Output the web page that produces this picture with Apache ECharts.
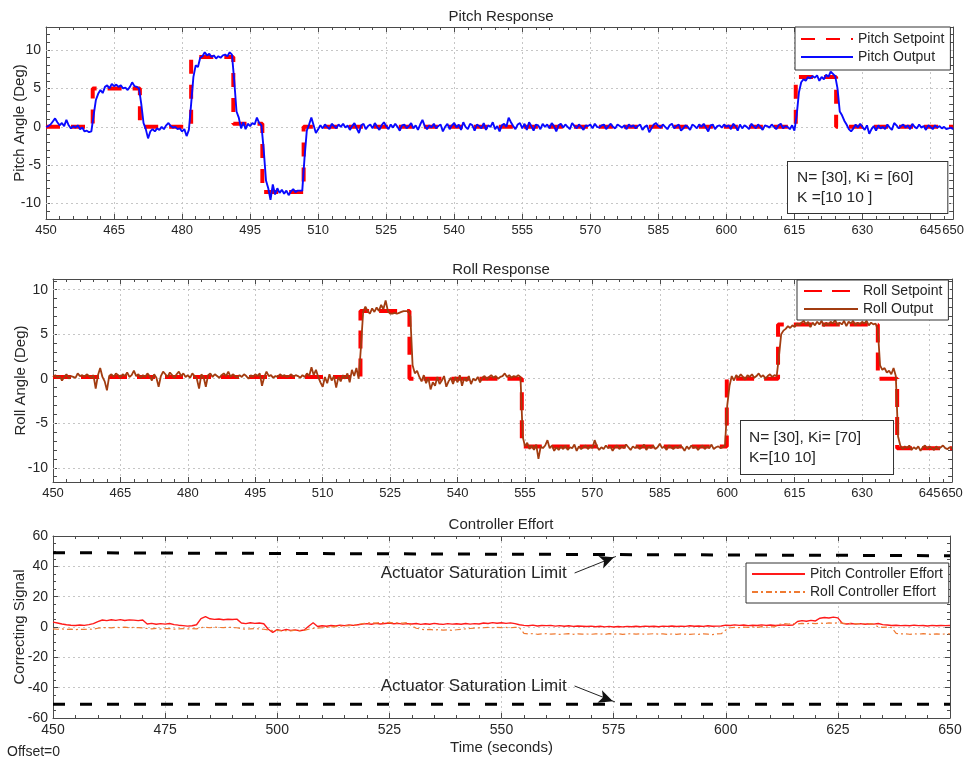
<!DOCTYPE html>
<html><head><meta charset="utf-8">
<script src="https://cdn.jsdelivr.net/npm/echarts@6/dist/echarts.min.js"></script>
<style>html,body{margin:0;padding:0;background:#fff}#c{width:967px;height:759px}</style>
</head><body><div id="c"></div>
<script>
// ---------------- DATA ----------------
const pitchStart = 450, pitchStep = 0.5;
const pitchOutput = [
 0.0, 0.1, 0.3, 0.7, 1.1, 0.6, 0.2, 0.5, 0.1, 0.9, 0.2, -0.2, 0.1, -0.1, 0.2, -0.3, -0.1, -0.6, -0.5, -0.7,
 -0.6, 1.5, 3.5, 4.3, 4.8, 4.4, 5.2, 5.4, 5.0, 5.6, 5.3, 5.5, 5.2, 5.4, 5.0, 5.1, 4.8, 5.2, 5.8, 5.3,
 5.2, 5.0, 3.0, 0.5, -0.3, -1.5, -0.6, -0.3, -0.6, -0.2, -0.4, 0.0, -0.3, 0.2, 0.5, 0.1, -0.1, 0.0, -0.3, -0.2,
 -0.6, -0.3, -1.2, -0.4, 3.0, 6.5, 8.0, 7.8, 9.0, 9.2, 9.7, 9.3, 9.5, 9.1, 9.3, 8.9, 9.2, 9.0, 9.3, 9.4,
 9.2, 9.7, 9.4, 6.0, 2.0, 1.2, -0.2, 0.6, -0.3, 0.4, 0.1, 0.5, 0.3, 1.2, 0.5, 0.2, -3.0, -7.0, -8.0, -9.5,
 -7.5, -8.8, -8.0, -8.6, -8.2, -8.7, -8.3, -8.9, -8.4, -8.1, -8.5, -8.3, -8.3, -8.3, -4.0, -0.5, 0.3, 1.2, 0.2, -0.8,
 -0.3, 0.2, -0.2, 0.3, 0.0, -0.3, 0.4, 0.1, -0.2, 0.3, 0.0, 0.4, -0.1, 0.2, -0.4, 0.1, 0.5, -0.2, -0.8, 0.2,
 0.4, -0.3, 0.1, 0.3, -0.2, 0.5, 0.0, -0.4, 0.2, 0.6, 0.1, -0.3, 0.3, -0.1, 0.4, 0.0, -0.5, 0.2, 0.3, -0.2,
 0.1, 0.5, -0.2, 0.2, -0.4, 0.3, 0.9, 0.1, -0.3, 0.2, -0.1, 0.4, -0.2, 0.1, 0.3, -0.6, 0.0, 0.4, -0.3, 0.2,
 0.5, -0.1, 0.3, -0.4, 0.6, 0.0, -0.3, 0.4, 0.2, -0.5, 0.3, 0.1, -0.2, 0.5, -0.4, 0.2, 0.0, 0.6, -0.3, 0.1,
 -0.6, 0.2, 0.4, 0.0, 1.2, 0.6, 0.1, -0.3, 0.3, 0.5, -0.2, 0.4, -0.4, 0.6, 0.1, -0.5, 0.3, 0.2, -0.3, 0.4,
 0.0, 0.3, -0.2, 0.5, 0.1, -0.6, 0.2, 0.4, -0.1, 0.3, 0.0, -0.3, 0.5, 0.1, -0.2, 0.3, 0.0, -0.4, 0.2, 0.1,
 0.3, -0.2, 0.4, 0.0, -0.1, 0.2, 0.3, -0.3, 0.1, 0.4, 0.0, -0.2, 0.3, 0.1, -0.1, 0.2, -0.3, 0.3, 0.0, 0.2,
 -0.2, 0.1, 0.3, -0.4, 0.0, 0.2, -0.7, -0.2, 0.3, 0.5, 0.1, -0.1, 0.3, 0.0, -0.3, 0.2, 0.4, -0.2, 0.1, 0.3,
 -0.5, -0.2, 0.2, 0.0, -0.4, 0.3, 0.1, -0.2, 0.3, 0.0, 0.4, -0.1, -0.6, 0.2, 0.3, -0.3, 0.1, 0.2, -0.1, 0.3,
 0.0, 0.2, -0.3, 0.4, 0.1, -0.5, 0.3, -0.2, 0.2, 0.0, -0.3, 0.4, 0.1, -0.2, 0.3, 0.0, -0.4, 0.2, 0.1, -0.1,
 0.3, 0.0, -0.3, 0.2, 0.4, -0.2, 0.1, 0.0, -0.3, 0.2, -0.5, 1.5, 4.5, 5.8, 6.2, 6.0, 6.5, 6.3, 6.6, 6.4,
 6.7, 6.0, 6.5, 6.2, 6.8, 6.5, 7.2, 6.9, 6.6, 5.0, 2.0, 1.5, 0.8, 0.3, -0.3, -0.6, -0.2, 0.3, -0.1, 0.4,
 0.0, -0.4, 0.2, -0.9, -0.3, 0.1, -0.5, 0.2, -0.2, 0.0, -0.3, 0.3, -0.1, -0.4, 0.5, 0.2, -0.2, 0.1, 0.3, -0.1,
 0.2, -0.3, 0.4, 0.0, -0.2, 0.3, -0.1, 0.1, -0.4, 0.2, 0.0, -0.3, 0.2, -0.1, 0.1, -0.2, 0.0, -0.3, -0.2, -0.1,
 -0.3
];
const pitchSetpoint = [[450,0],[460.3,0],[460.3,5],[470.7,5],[470.7,0],[482,0],[482,9.1],[491.3,9.1],[491.3,0.4],
 [497.7,0.4],[497.7,-8.5],[506.8,-8.5],[506.8,0],[615.3,0],[615.3,6.5],[624.2,6.5],[624.2,0],[650,0]];

const rollStart = 450, rollStep = 0.5;
const rollOutput = [
 0.2, 0.4, 0.1, 0.3, -0.2, 0.2, 0.5, 0.0, 0.3, 0.2, 0.1, 0.6, 0.3, 0.4, 0.2, 0.5, 0.3, 0.1, 0.4, -1.1,
 0.4, 1.2, 0.2, -0.3, -1.3, 0.3, 0.5, 0.2, 0.6, 0.4, 0.1, 0.5, 0.3, 0.7, 0.2, 0.4, 0.9, 0.3, 0.5, 0.1,
 0.4, 0.2, 0.6, 0.3, -0.2, 0.5, 0.1, -0.9, 0.3, 0.8, 0.5, 0.2, 0.7, 0.4, 0.1, 0.5, 0.8, 0.3, 0.6, 0.2,
 0.4, 0.1, 0.6, 0.3, 0.0, -1.1, 0.5, 0.2, -0.9, 0.4, 0.6, 0.2, 0.5, 0.3, 0.1, 0.4, 0.6, 0.3, 0.8, 0.2,
 0.5, 0.3, 0.1, 0.4, 0.2, 0.5, 0.3, 0.0, 0.4, 0.2, 0.5, 0.3, 0.6, -0.8, 0.2, 0.8, 0.3, 0.4, 0.1, 0.3,
 0.2, 0.5, 0.3, 0.4, 0.2, 0.3, 0.5, 0.2, 0.4, 0.3, 0.1, 0.4, 0.2, 0.6, 0.3, 1.3, 0.4, 1.0, 0.2, -0.4,
 -0.9, 0.2, -0.5, 0.5, -0.2, 0.3, -1.0, 0.2, -0.3, 0.4, 0.0, 0.6, -0.4, 1.0, 0.3, 1.2, 0.0, 3.5, 7.5, 8.1,
 7.6, 7.3, 7.9, 7.5, 8.0, 7.6, 8.3, 7.8, 8.8, 7.6, 7.3, 7.3, 7.4, 7.3, 7.4, 7.5, 7.6, 7.6, 7.6, 7.0,
 1.5, 0.6, 0.9, 0.2, -0.3, 0.4, -0.5, 0.1, -1.2, -0.4, -0.8, 0.2, -0.6, -0.2, 0.3, -0.9, -0.3, 0.1, -0.6, 0.2,
 -0.4, 0.4, -0.8, 0.1, -0.3, 0.3, -0.6, 0.0, -0.2, 0.2, -0.4, 0.1, 0.3, -0.1, 0.2, 0.4, 0.1, 0.3, 0.0, 0.2,
 0.3, 0.6, 0.2, 0.4, 0.1, 0.3, 0.2, 0.4, 0.2, -6.5, -7.6, -7.2, -7.9, -7.5, -8.0, -7.4, -9.0, -7.6, -7.8, -7.5,
 -6.9, -7.8, -7.5, -8.1, -7.7, -8.0, -7.6, -7.9, -7.5, -8.0, -7.7, -7.8, -7.4, -8.1, -7.6, -7.9, -7.7, -7.5, -7.9, -7.6,
 -7.8, -6.9, -7.6, -8.0, -7.7, -7.9, -7.5, -7.8, -7.6, -8.1, -7.7, -7.5, -7.9, -7.6, -7.8, -7.4, -7.7, -8.0, -7.6, -7.8,
 -7.5, -7.9, -7.7, -7.4, -8.0, -7.6, -7.8, -7.5, -7.9, -7.7, -7.3, -7.8, -7.6, -8.0, -7.5, -7.7, -7.9, -7.6, -7.8, -7.5,
 -7.7, -8.1, -7.6, -7.9, -7.5, -7.8, -7.6, -8.0, -7.7, -7.5, -7.9, -7.6, -7.8, -7.4, -7.9, -7.7, -7.6, -7.8, -7.7, -7.5,
 -3.0, -0.8, 0.3, -0.2, 0.4, 0.1, 0.5, 0.2, -0.1, 0.4, 0.2, 0.5, 0.1, 0.3, 0.6, 0.2, 0.4, 0.0, 0.3, 0.5,
 0.2, 0.4, 0.3, 2.5, 5.0, 5.4, 5.6, 5.9, 5.7, 6.0, 5.8, 6.2, 6.0, 6.3, 6.5, 6.1, 6.4, 5.8, 6.3, 6.0,
 6.4, 6.1, 6.5, 5.9, 6.3, 6.0, 6.4, 6.2, 6.6, 6.0, 6.3, 6.1, 6.5, 5.9, 6.4, 6.2, 6.5, 6.0, 6.3, 6.1,
 6.4, 6.2, 6.5, 6.0, 6.3, 6.1, 6.2, 5.5, 1.5, 1.0, 1.2, 0.7, 0.9, 0.5, 1.2, 0.3, -6.5, -7.5, -7.9, -7.6,
 -7.8, -7.5, -8.0, -7.7, -7.9, -7.6, -8.1, -7.7, -7.5, -7.9, -7.6, -7.8, -8.0, -7.6, -7.9, -7.7, -7.5, -7.8, -7.9, -7.7,
 -7.8
];
const rollSetpoint = [[450,0.2],[518.4,0.2],[518.4,7.6],[529.3,7.6],[529.3,0],[554.3,0],[554.3,-7.6],[599.9,-7.6],
 [599.9,0],[611.3,0],[611.3,6.1],[633.5,6.1],[633.5,0],[637.8,0],[637.8,-7.8],[650,-7.8]];

const effortStart = 450, effortStep = 1;
const pitchEffort = [
 3.2, 2.6, 2.0, 1.5, 1.2, 1.0, 1.3, 1.1, 1.6, 2.2,
 3.5, 4.6, 4.2, 4.8, 4.4, 4.9, 4.3, 4.7, 4.5, 4.2,
 4.6, 2.0, 2.4, 1.8, 2.2, 1.9, 2.3, 1.6, 1.2, 0.9,
 0.6, 0.8, 1.5, 5.5, 6.8, 5.4, 5.0, 5.3, 4.8, 5.1,
 4.9, 5.2, 2.6, 2.2, 2.8, 2.4, 2.6, 2.1, -1.5, -3.5,
 -1.8, -2.4, -1.6, -2.2, -1.9, -2.5, -2.0, 0.5, 2.8, 0.3,
 0.8, 0.5, 1.0, 0.7, 1.2, 0.9, 1.3, 1.1, 1.5, 1.9,
 2.2, 1.8, 2.4, 2.0, 2.3, 2.6, 2.1, 2.4, 1.9, 2.2,
 2.0, 2.3, 1.7, 2.1, 1.8, 2.4, 2.0, 1.7, 2.2, 1.9,
 2.1, 1.8, 2.3, 1.9, 2.2, 2.0, 2.6, 2.3, 2.9, 2.5,
 2.8, 2.4, 2.7, 2.2, 1.5, 1.1, 0.8, 1.2, 0.7, 1.0,
 0.9, 1.1, 0.6, 0.9, 0.5, 0.8, 0.4, 0.7, 0.5, 0.3,
 0.6, 0.2, 0.5, 0.1, 0.4, 0.0, 0.3, 0.1, 0.4, 0.2,
 0.5, 0.2, 0.6, 0.3, 0.5, 0.2, 0.6, 0.4, 0.7, 0.3,
 0.6, 0.4, 0.8, 0.5, 0.7, 0.4, 0.8, 0.5, 0.6, 0.7,
 1.2, 1.0, 1.4, 1.1, 1.3, 0.9, 1.2, 1.0, 1.4, 1.1,
 1.3, 1.0, 1.2, 1.4, 1.1, 1.3, 3.6, 4.2, 3.8, 4.4,
 4.0, 5.8, 6.3, 5.9, 6.5, 6.0, 2.4, 2.0, 2.3, 1.9,
 2.2, 1.8, 2.1, 1.9, 2.3, 1.6, 1.3, 1.0, 1.2, 0.9,
 1.1, 0.8, 1.2, 0.9, 1.0, 0.7, 1.1, 0.8, 1.0, 0.9,
 1.0
];
const rollEffort = [
 -1.2, -1.5, -1.3, -1.6, -1.4, -1.7, -1.5, -1.6, -1.4, -1.5,
 -0.8, -0.5, -0.3, -0.6, -0.2, -0.4, -0.1, -0.5, -0.3, -0.4,
 -0.6, -1.0, -1.2, -0.9, -1.3, -1.1, -1.0, -1.4, -1.2, -1.1,
 -1.3, -1.0, -1.2, -0.4, -0.2, -0.5, -0.1, -0.3, -0.4, -0.2,
 -0.3, -0.5, -1.1, -1.4, -1.2, -1.0, -1.3, -1.5, -2.0, -2.4,
 -2.2, -2.5, -2.3, -2.6, -2.1, -2.4, -2.2, -1.5, -1.0, -0.8,
 -0.5, -0.2, 0.0, 0.3, 0.5, 0.7, 0.9, 1.2, 1.6, 2.3,
 2.6, 2.9, 2.5, 3.0, 2.7, 3.1, 2.6, 2.8, 2.5, 2.9,
 0.8, -0.8, -1.4, -1.8, -1.6, -2.0, -1.7, -2.1, -1.9, -2.2,
 -1.8, -1.5, -1.2, -1.0, -0.8, -0.6, -0.5, -0.3, -0.5, -0.2,
 -0.4, -0.3, -0.5, -0.2, -0.4, -4.2, -4.6, -4.3, -4.8, -4.5,
 -4.4, -4.7, -4.5, -4.9, -4.6, -4.4, -4.8, -4.5, -4.7, -4.6,
 -4.8, -4.5, -4.6, -4.9, -4.4, -4.7, -4.5, -4.8, -4.6, -4.4,
 -4.7, -4.5, -4.8, -4.6, -4.4, -4.7, -4.5, -4.9, -4.6, -4.8,
 -4.5, -4.7, -4.9, -4.6, -4.8, -4.5, -4.7, -5.0, -4.6, -4.4,
 -2.0, -0.5, -0.2, -0.4, 0.0, -0.3, 0.1, -0.2, 0.2, -0.1,
 0.1, 0.3, 1.8, 2.2, 1.9, 2.3, 2.0, 2.4, 2.1, 2.5,
 2.2, 2.6, 2.3, 2.7, 2.4, 2.8, 2.5, 2.2, 2.4, 2.1,
 2.3, 2.0, 2.2, 1.9, 0.1, -0.3, 0.0, -0.4, -4.2, -4.6,
 -4.4, -4.8, -4.5, -4.7, -4.4, -4.6, -4.9, -4.5, -4.7, -4.6,
 -4.5
];
const upperLimit = [[450, 49], [650, 47]];
const lowerLimit = [[450, -51], [650, -51]];
// annotation arrows: line start/end and arrowhead centre + rotation (deg)
const upperArrow = [[566.3, 35.6], [575.5, 46.5]];
const lowerArrow = [[566.3, -38.9], [575.3, -49.4]];
const upperHead = {at: [575.05, 45.95], rotate: -69};
const lowerHead = {at: [574.83, -48.92], rotate: -110};
const upperLabelAt = [565, 35.6];
const lowerLabelAt = [565, -38.9];
const satLabel = 'Actuator Saturation Limit';

// ticks / labels
const pitchYTicks = [-12,-11,-10,-9,-8,-7,-6,-5,-4,-3,-2,-1,0,1,2,3,4,5,6,7,8,9,10,11,12,13];
const pitchYLabels = [-10,-5,0,5,10];
const rollYTicks = [-11,-10,-9,-8,-7,-6,-5,-4,-3,-2,-1,0,1,2,3,4,5,6,7,8,9,10,11];
const rollYLabels = [-10,-5,0,5,10];
const respX = {min: 450, max: 650, interval: 15};
const effX = {min: 450, max: 650, interval: 25};
const effY = {min: -60, max: 60, interval: 20};
const pitchYRange = {min: -12, max: 13};
const rollYRange = {min: -11.6, max: 11.2};

// ---------------- STYLE ----------------
const FONT = 'Liberation Sans, Arial, Helvetica, sans-serif';
const AX = '#4a4a4a', TXT = '#262626', GRIDC = '#c6c6c6';
const toPairs = (arr, t0, dt) => arr.map((v, i) => [t0 + i * dt, v]);

function xAx(gi, pos, r, label, fs, extra) {
  return Object.assign({
    type: 'value', gridIndex: gi, position: pos, min: r.min, max: r.max, interval: r.interval,
    axisLine: {show: true, onZero: false, lineStyle: {color: AX, width: 1}},
    axisTick: {show: true, inside: true, length: 5, lineStyle: {color: AX}},
    minorTick: {show: true, splitNumber: 5, length: 3, lineStyle: {color: AX}},
    axisLabel: {show: label, margin: 5, color: TXT, fontSize: fs, fontFamily: FONT, showMinLabel: true, showMaxLabel: true, hideOverlap: false},
    splitLine: {show: label, lineStyle: {color: GRIDC, type: [2, 3]}}
  }, extra || {});
}
function yAxCustom(gi, pos, r, ticks, labels, label, extra) {
  return Object.assign({
    type: 'value', gridIndex: gi, position: pos, min: r.min, max: r.max,
    axisLine: {show: true, onZero: false, lineStyle: {color: AX, width: 1}},
    axisTick: {show: true, inside: true, length: 4, customValues: ticks, lineStyle: {color: AX}},
    axisLabel: {show: label, margin: 5, color: TXT, fontSize: 14, fontFamily: FONT, customValues: labels},
    splitLine: {show: false}
  }, extra || {});
}
function yAxInt(gi, pos, r, label, extra) {
  return Object.assign({
    type: 'value', gridIndex: gi, position: pos, min: r.min, max: r.max, interval: r.interval,
    axisLine: {show: true, onZero: false, lineStyle: {color: AX, width: 1}},
    axisTick: {show: true, inside: true, length: 5, lineStyle: {color: AX}},
    minorTick: {show: true, splitNumber: 4, length: 3, lineStyle: {color: AX}},
    axisLabel: {show: label, margin: 5, color: TXT, fontSize: 14, fontFamily: FONT, showMinLabel: true, showMaxLabel: true},
    splitLine: {show: label, lineStyle: {color: GRIDC, type: [2, 3]}}
  }, extra || {});
}
const nameStyle = {color: TXT, fontSize: 15, fontFamily: FONT};
function gridLines(values) {
  return {silent: true, symbol: ['none', 'none'], z: 1, label: {show: false},
    lineStyle: {color: GRIDC, type: [2, 3], width: 1}, emphasis: {disabled: true},
    data: values.map(v => ({yAxis: v}))};
}
function legendBox(left, top, names, itemWidth, pad) {
  return {left, top, orient: 'vertical', data: names, itemWidth, itemHeight: 14, itemGap: 2,
    backgroundColor: '#fff', borderColor: '#333', borderWidth: 1, borderRadius: 0, padding: pad,
    selectedMode: false, z: 10,
    itemStyle: {opacity: 0, color: 'rgba(0,0,0,0)', borderWidth: 0},
    textStyle: {color: TXT, fontSize: 14, fontFamily: FONT, lineHeight: 16}};
}
function titleAt(text, top) {
  return {text, left: 501, top, textAlign: 'center', padding: 0,
    textStyle: {color: TXT, fontSize: 15, fontWeight: 'normal', fontFamily: FONT}};
}
function arrowLine(seg) {
  return {silent: true, symbol: ['none', 'none'], label: {show: false},
    lineStyle: {color: '#222', width: 1, type: 'solid'}, emphasis: {disabled: true},
    data: [[{coord: seg[0]}, {coord: seg[1]}]]};
}
function annot(labelAt, head) {
  return {silent: true, emphasis: {disabled: true},
    data: [
      {coord: labelAt, symbol: 'circle', symbolSize: 0,
        label: {show: true, position: 'left', distance: 2, color: TXT, fontSize: 17, fontFamily: FONT, formatter: satLabel}},
      {coord: head.at, symbol: 'arrow', symbolSize: [10, 14], symbolRotate: head.rotate,
        itemStyle: {color: '#111'}, label: {show: false}}
    ]};
}

const chart = echarts.init(document.getElementById('c'), null, {renderer: 'canvas'});
chart.setOption({
  animation: false,
  backgroundColor: '#fff',
  title: [titleAt('Pitch Response', 9), titleAt('Roll Response', 262), titleAt('Controller Effort', 517)],
  grid: [
    {left: 46, top: 27, width: 909, height: 192},
    {left: 53, top: 279, width: 899, height: 203},
    {left: 53, top: 536, width: 897, height: 182}
  ],
  xAxis: [
    xAx(0, 'bottom', respX, true, 13), xAx(0, 'top', respX, false, 13),
    xAx(1, 'bottom', respX, true, 13), xAx(1, 'top', respX, false, 13),
    xAx(2, 'bottom', effX, true, 14, {name: 'Time (seconds)', nameLocation: 'middle', nameGap: 22, nameTextStyle: nameStyle}),
    xAx(2, 'top', effX, false, 14)
  ],
  yAxis: [
    yAxCustom(0, 'left', pitchYRange, pitchYTicks, pitchYLabels, true,
      {name: 'Pitch Angle (Deg)', nameLocation: 'middle', nameGap: 19, nameMoveOverlap: false, nameTextStyle: nameStyle}),
    yAxCustom(0, 'right', pitchYRange, pitchYTicks, pitchYLabels, false),
    yAxCustom(1, 'left', rollYRange, rollYTicks, rollYLabels, true,
      {name: 'Roll Angle (Deg)', nameLocation: 'middle', nameGap: 25, nameMoveOverlap: false, nameTextStyle: nameStyle}),
    yAxCustom(1, 'right', rollYRange, rollYTicks, rollYLabels, false),
    yAxInt(2, 'left', effY, true,
      {name: 'Correcting Signal', nameLocation: 'middle', nameGap: 26, nameMoveOverlap: false, nameTextStyle: nameStyle}),
    yAxInt(2, 'right', effY, false)
  ],
  legend: [
    legendBox(795, 27, ['Pitch Setpoint', 'Pitch Output'], 52, [4, 6, 5, 5]),
    legendBox(797, 280, ['Roll Setpoint', 'Roll Output'], 54, [3, 6, 3, 6]),
    legendBox(746, 563, ['Pitch Controller Effort', 'Roll Controller Effort'], 53, [3, 6, 3, 5])
  ],
  series: [
    {name: 'Pitch Setpoint', type: 'line', xAxisIndex: 0, yAxisIndex: 0, symbol: 'none', silent: true,
      lineStyle: {color: '#ff0000', width: 4, type: [14, 11]}, itemStyle: {color: '#ff0000'},
      data: pitchSetpoint, markLine: gridLines(pitchYLabels)},
    {name: 'Pitch Output', type: 'line', xAxisIndex: 0, yAxisIndex: 0, symbol: 'none', silent: true,
      lineStyle: {color: '#0a0aff', width: 1.9}, itemStyle: {color: '#0a0aff'},
      data: toPairs(pitchOutput, pitchStart, pitchStep)},
    {name: 'Roll Setpoint', type: 'line', xAxisIndex: 2, yAxisIndex: 2, symbol: 'none', silent: true,
      lineStyle: {color: '#ff0000', width: 4, type: [18, 10]}, itemStyle: {color: '#ff0000'},
      data: rollSetpoint, markLine: gridLines(rollYLabels)},
    {name: 'Roll Output', type: 'line', xAxisIndex: 2, yAxisIndex: 2, symbol: 'none', silent: true,
      lineStyle: {color: '#a23c10', width: 1.8}, itemStyle: {color: '#a23c10'},
      data: toPairs(rollOutput, rollStart, rollStep)},
    {name: 'Pitch Controller Effort', type: 'line', xAxisIndex: 4, yAxisIndex: 4, symbol: 'none', silent: true,
      lineStyle: {color: '#ff1a1a', width: 1.4}, itemStyle: {color: '#ff1a1a'},
      data: toPairs(pitchEffort, effortStart, effortStep)},
    {name: 'Roll Controller Effort', type: 'line', xAxisIndex: 4, yAxisIndex: 4, symbol: 'none', silent: true,
      lineStyle: {color: '#ef7a32', width: 1.2, type: [6, 3, 2, 3]}, itemStyle: {color: '#ef7a32'},
      data: toPairs(rollEffort, effortStart, effortStep)},
    {name: 'upperLimit', type: 'line', xAxisIndex: 4, yAxisIndex: 4, symbol: 'none', silent: true,
      lineStyle: {color: '#000', width: 3, type: [12, 15]}, itemStyle: {color: '#000'}, data: upperLimit,
      markLine: arrowLine(upperArrow), markPoint: annot(upperLabelAt, upperHead)},
    {name: 'lowerLimit', type: 'line', xAxisIndex: 4, yAxisIndex: 4, symbol: 'none', silent: true,
      lineStyle: {color: '#000', width: 3, type: [12, 15]}, itemStyle: {color: '#000'}, data: lowerLimit,
      markLine: arrowLine(lowerArrow), markPoint: annot(lowerLabelAt, lowerHead)}
  ],
  graphic: [
    {type: 'text', left: 787, top: 161, z: 100, silent: true,
      style: {text: 'N= [30], Ki = [60]\nK =[10 10 ]', font: '15.5px Liberation Sans, Arial, sans-serif', fill: TXT,
        lineHeight: 20, backgroundColor: '#fff', borderColor: '#333', borderWidth: 1, padding: [6, 34, 5, 9]}},
    {type: 'text', left: 740, top: 420, z: 100, silent: true,
      style: {text: 'N= [30], Ki= [70]\nK=[10 10]', font: '15.5px Liberation Sans, Arial, sans-serif', fill: TXT,
        lineHeight: 20, backgroundColor: '#fff', borderColor: '#333', borderWidth: 1, padding: [7, 32, 6, 8]}},
    {type: 'text', left: 7, top: 745, silent: true,
      style: {text: 'Offset=0', font: '14px Liberation Sans, Arial, sans-serif', fill: TXT}}
  ]
});
</script></body></html>
